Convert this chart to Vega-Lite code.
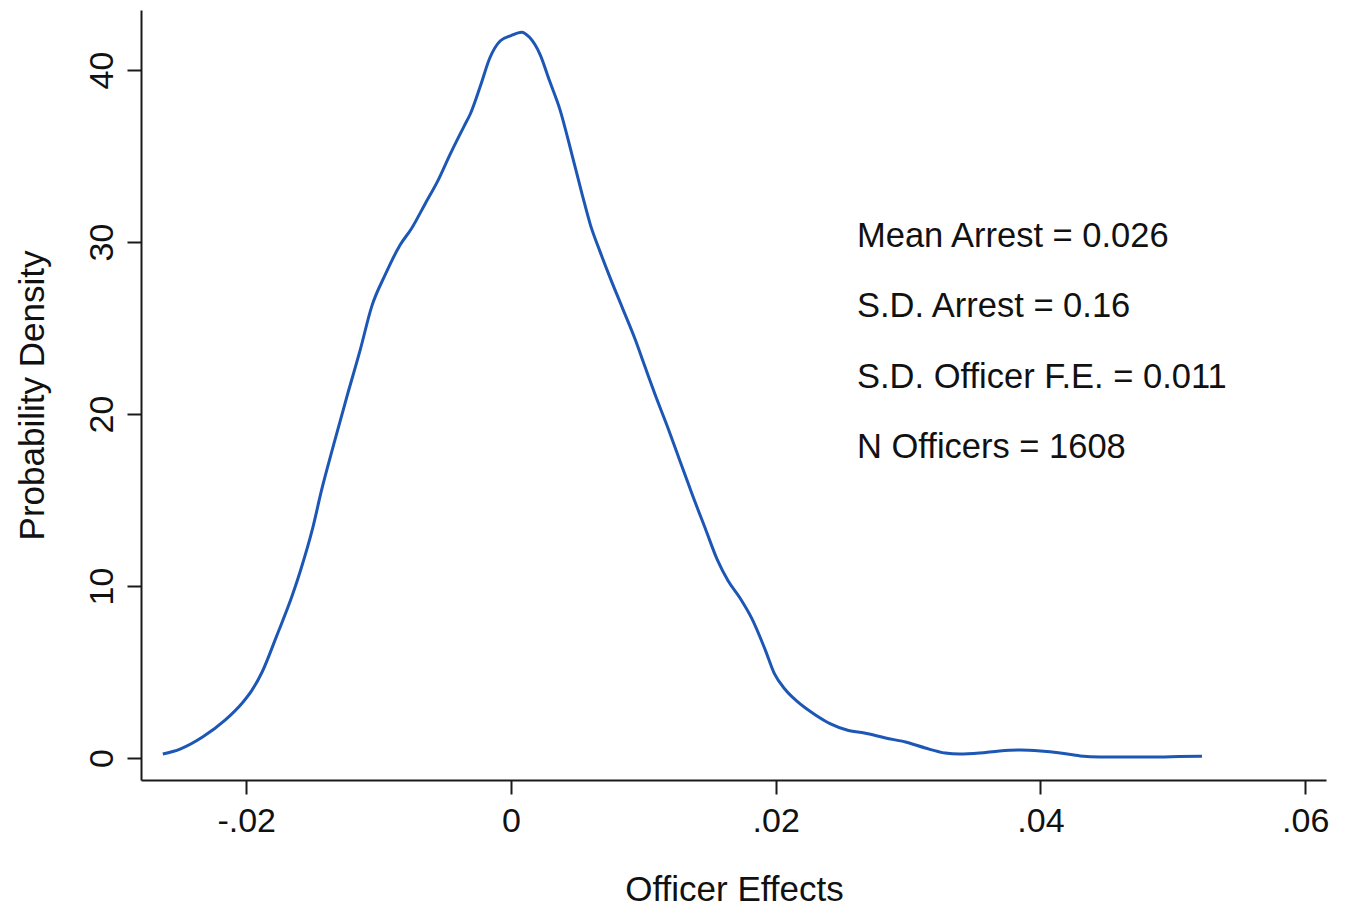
{
  "$schema": "https://vega.github.io/schema/vega-lite/v6.json",
  "autosize": "none",
  "width": 1185,
  "height": 770,
  "padding": {"left": 141, "top": 10, "right": 22, "bottom": 132},
  "background": "white",
  "config": {
    "view": {"stroke": null},
    "font": "Liberation Sans",
    "axis": {
      "grid": false,
      "domainColor": "#1a1a1a",
      "domainWidth": 2,
      "tickColor": "#1a1a1a",
      "tickWidth": 2,
      "tickSize": 14,
      "labelFont": "Liberation Sans",
      "labelFontSize": 34,
      "labelColor": "#111",
      "titleFont": "Liberation Sans",
      "titleFontSize": 35,
      "titleFontWeight": "normal",
      "titleColor": "#111"
    }
  },
  "layer": [
    {
      "data": {
        "values": [
          {"effect": -0.0263, "density": 0.23},
          {"effect": -0.0250, "density": 0.52},
          {"effect": -0.0233, "density": 1.22},
          {"effect": -0.0216, "density": 2.2},
          {"effect": -0.0203, "density": 3.2},
          {"effect": -0.0196, "density": 3.9},
          {"effect": -0.0188, "density": 5.0},
          {"effect": -0.0177, "density": 7.1},
          {"effect": -0.0165, "density": 9.5},
          {"effect": -0.0159, "density": 10.9},
          {"effect": -0.0150, "density": 13.3},
          {"effect": -0.0143, "density": 15.6},
          {"effect": -0.0134, "density": 18.2},
          {"effect": -0.0124, "density": 21.0},
          {"effect": -0.0114, "density": 23.7},
          {"effect": -0.0105, "density": 26.3},
          {"effect": -0.0095, "density": 28.1},
          {"effect": -0.0084, "density": 29.8},
          {"effect": -0.0075, "density": 30.8},
          {"effect": -0.0065, "density": 32.2},
          {"effect": -0.0055, "density": 33.6},
          {"effect": -0.0046, "density": 35.1},
          {"effect": -0.0035, "density": 36.8},
          {"effect": -0.0031, "density": 37.4},
          {"effect": -0.0023, "density": 39.1},
          {"effect": -0.0016, "density": 40.7},
          {"effect": -0.0008, "density": 41.7},
          {"effect": 0.0, "density": 42.0},
          {"effect": 0.0008, "density": 42.2},
          {"effect": 0.0014, "density": 41.9},
          {"effect": 0.0022, "density": 40.9},
          {"effect": 0.0029, "density": 39.4},
          {"effect": 0.0037, "density": 37.7},
          {"effect": 0.0046, "density": 35.1},
          {"effect": 0.0054, "density": 32.7},
          {"effect": 0.0060, "density": 31.0},
          {"effect": 0.0067, "density": 29.5},
          {"effect": 0.0075, "density": 27.9},
          {"effect": 0.0084, "density": 26.2},
          {"effect": 0.0094, "density": 24.3},
          {"effect": 0.0101, "density": 22.8},
          {"effect": 0.0109, "density": 21.1},
          {"effect": 0.0119, "density": 19.1},
          {"effect": 0.0128, "density": 17.2},
          {"effect": 0.0137, "density": 15.3},
          {"effect": 0.0147, "density": 13.3},
          {"effect": 0.0156, "density": 11.5},
          {"effect": 0.0164, "density": 10.3},
          {"effect": 0.0173, "density": 9.3},
          {"effect": 0.0182, "density": 8.1},
          {"effect": 0.0192, "density": 6.3},
          {"effect": 0.0199, "density": 4.9},
          {"effect": 0.0207, "density": 4.0},
          {"effect": 0.0216, "density": 3.3},
          {"effect": 0.0230, "density": 2.5},
          {"effect": 0.0241, "density": 2.0},
          {"effect": 0.0255, "density": 1.6},
          {"effect": 0.0267, "density": 1.45},
          {"effect": 0.0283, "density": 1.16},
          {"effect": 0.0298, "density": 0.93},
          {"effect": 0.0313, "density": 0.58},
          {"effect": 0.0328, "density": 0.29},
          {"effect": 0.0339, "density": 0.23},
          {"effect": 0.0354, "density": 0.29},
          {"effect": 0.0369, "density": 0.41},
          {"effect": 0.0385, "density": 0.47},
          {"effect": 0.0400, "density": 0.41},
          {"effect": 0.0415, "density": 0.29},
          {"effect": 0.0430, "density": 0.12},
          {"effect": 0.0445, "density": 0.06},
          {"effect": 0.0468, "density": 0.06},
          {"effect": 0.0490, "density": 0.06},
          {"effect": 0.0505, "density": 0.09},
          {"effect": 0.0522, "density": 0.1}
        ]
      },
      "mark": {"type": "line", "color": "#1c57b5", "strokeWidth": 3, "interpolate": "monotone", "clip": false},
      "encoding": {
        "x": {
          "field": "effect",
          "type": "quantitative",
          "scale": {"domain": [-0.02795, 0.06157], "nice": false, "zero": false},
          "axis": {
            "values": [-0.02, 0, 0.02, 0.04, 0.06],
            "labelExpr": "datum.value == 0 ? '0' : (datum.value < 0 ? '-' : '') + replace(format(abs(datum.value), '.2f'), '0.', '.')",
            "labelPadding": 10,
            "labelFlush": false,
            "title": "Officer Effects",
            "titleX": 593,
            "titleY": 120,
            "titleBaseline": "alphabetic",
            "titleAnchor": null
          }
        },
        "y": {
          "field": "density",
          "type": "quantitative",
          "scale": {"domain": [-1.28, 43.49], "nice": false, "zero": false},
          "axis": {
            "values": [0, 10, 20, 30, 40],
            "labelAngle": -90,
            "labelAlign": "center",
            "labelBaseline": "bottom",
            "labelPadding": 8,
            "labelFlush": false,
            "title": "Probability Density",
            "titleAngle": -90,
            "titleAlign": "center",
            "titleBaseline": "alphabetic",
            "titleX": -98,
            "titleY": 385
          }
        }
      }
    },
    {
      "data": {
        "values": [
          {"effect": 0.02614, "density": 30.29, "label": "Mean Arrest = 0.026"},
          {"effect": 0.02614, "density": 26.22, "label": "S.D. Arrest = 0.16"},
          {"effect": 0.02614, "density": 22.09, "label": "S.D. Officer F.E. = 0.011"},
          {"effect": 0.02614, "density": 18.02, "label": "N Officers = 1608"}
        ]
      },
      "mark": {"type": "text", "align": "left", "baseline": "middle", "fontSize": 34.5, "font": "Liberation Sans", "color": "#111"},
      "encoding": {
        "x": {"field": "effect", "type": "quantitative"},
        "y": {"field": "density", "type": "quantitative"},
        "text": {"field": "label"}
      }
    }
  ]
}
